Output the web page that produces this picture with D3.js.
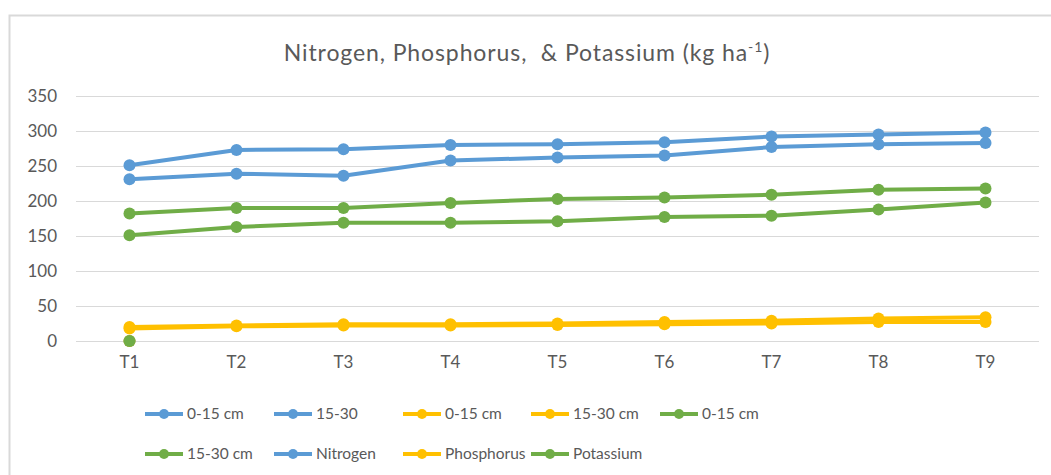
<!DOCTYPE html>
<html>
<head>
<meta charset="utf-8">
<script src="https://cdn.jsdelivr.net/npm/d3@7"></script>
<style>
  body { margin: 0; background: #fff; }
  svg { display: block; font-family: Lato, "Open Sans", sans-serif; }
</style>
</head>
<body>
<div id="chart"></div>
<script>
const categories = ["T1", "T2", "T3", "T4", "T5", "T6", "T7", "T8", "T9"];
const yTicks = [0, 50, 100, 150, 200, 250, 300, 350];

// N, P, K at two depths
const nitrogen0 = [251, 273, 274, 280, 281, 284, 292, 295, 298];
const nitrogen15 = [231, 239, 236, 258, 262, 265, 277, 281, 283];
const phos0 = [20, 22, 24, 24, 25, 27, 29, 32, 34];
const phos15 = [18, 21, 22, 22, 23, 24, 25, 27, 27];
const potas0 = [182, 190, 190, 197, 203, 205, 209, 216, 218];
const potas15 = [151, 163, 169, 169, 171, 177, 179, 188, 198];
// the three group series only hold one value at T1
const nitrogenOnly = [0];
const phosOnly = [0];
const potasOnly = [0];

const seriesNames = ["0-15 cm", "15-30", "0-15 cm", "15-30 cm", "0-15 cm", "15-30 cm", "Nitrogen", "Phosphorus", "Potassium"];
const seriesValues = [nitrogen0, nitrogen15, phos0, phos15, potas0, potas15, nitrogenOnly, phosOnly, potasOnly];
const seriesColors = ["#5B9BD5", "#5B9BD5", "#FFC000", "#FFC000", "#70AD47", "#70AD47", "#5B9BD5", "#FFC000", "#70AD47"];

const W = 1051, H = 475;
const svg = d3.select("#chart").append("svg").attr("width", W).attr("height", H);

// chart frame (only top/left edges visible in the crop)
svg.append("path")
  .attr("d", `M9.5,${H}V15.5H${W}`)
  .attr("fill", "none").attr("stroke", "#d9d9d9").attr("stroke-width", 2);

const x = d3.scaleBand().domain(categories).range([76, 1039]);
const y = d3.scaleLinear().domain([0, 350]).range([341, 96]);

// gridlines
svg.append("g").selectAll("line").data(yTicks).join("line")
  .attr("x1", 76).attr("x2", 1039)
  .attr("y1", d => Math.round(y(d)) + 0.5).attr("y2", d => Math.round(y(d)) + 0.5)
  .attr("stroke", "#d9d9d9").attr("stroke-width", 1);

// y axis labels
const yAxis = svg.append("g").attr("transform", "translate(57,0)")
  .call(d3.axisLeft(y).tickValues(yTicks).tickSize(0).tickPadding(0));
yAxis.select(".domain").remove();
yAxis.selectAll("text").attr("font-size", 17).attr("fill", "#595959").attr("font-family", "Lato, sans-serif");

// x axis labels
const xAxis = svg.append("g").attr("transform", "translate(0,356)")
  .call(d3.axisBottom(x).tickSize(0).tickPadding(0));
xAxis.select(".domain").remove();
xAxis.selectAll("text").attr("font-size", 17).attr("fill", "#595959").attr("font-family", "Lato, sans-serif");

const cx = (i) => x(categories[i]) + x.bandwidth() / 2;
const line = d3.line().x((d, i) => cx(i)).y(d => y(d));

seriesValues.forEach((vals, s) => {
  const g = svg.append("g");
  if (vals.length > 1) {
    g.append("path").attr("d", line(vals))
      .attr("fill", "none").attr("stroke", seriesColors[s])
      .attr("stroke-width", 4).attr("stroke-linejoin", "round");
  }
  g.selectAll("circle").data(vals).join("circle")
    .attr("cx", (d, i) => cx(i)).attr("cy", d => y(d))
    .attr("r", 6).attr("fill", seriesColors[s]);
});

// title
const title = svg.append("text")
  .attr("x", 527).attr("y", 61).attr("text-anchor", "middle")
  .attr("font-size", 23).attr("letter-spacing", 0.9).attr("fill", "#595959")
  .style("white-space", "pre");
title.append("tspan").text("Nitrogen, Phosphorus,  & Potassium (kg ha");
title.append("tspan").attr("font-size", 14).attr("dy", -9).text("-1");
title.append("tspan").attr("dy", 9).text(")");

// legend
const legendCols = [145, 274, 403, 531, 660];
const legendRows = [414, 454];
const legend = svg.append("g");
seriesNames.forEach((name, s) => {
  const lx = legendCols[s % 5];
  const ly = legendRows[Math.floor(s / 5)];
  const g = legend.append("g");
  g.append("line").attr("x1", lx).attr("x2", lx + 38).attr("y1", ly).attr("y2", ly)
    .attr("stroke", seriesColors[s]).attr("stroke-width", 4);
  g.append("circle").attr("cx", lx + 19).attr("cy", ly).attr("r", 5).attr("fill", seriesColors[s]);
  g.append("text").attr("x", lx + 42).attr("y", ly + 5)
    .attr("font-size", 15.5).attr("fill", "#595959").text(name);
});
</script>
</body>
</html>
